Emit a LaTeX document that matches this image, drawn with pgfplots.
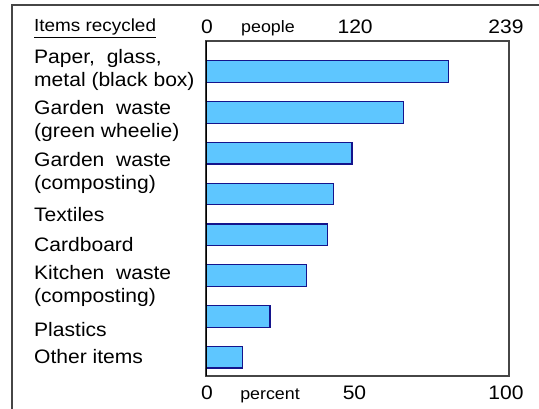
\documentclass[border=0pt]{standalone}
\usepackage{pgfplots}
\pgfplotsset{compat=1.18}
\usepackage{fontspec}
\setmainfont[FakeStretch=1.08]{Liberation Sans}
\definecolor{barfill}{RGB}{94,198,255}
\definecolor{baredge}{RGB}{20,20,140}
\definecolor{framec}{RGB}{70,70,70}
\newcommand{\lf}{\fontsize{19.5}{22.5}\selectfont}
\newcommand{\smf}{\fontsize{16.5}{19}\selectfont}
\begin{document}
\begin{tikzpicture}[x=1pt,y=1pt]
\path[use as bounding box] (0,0) rectangle (539,409);
\draw[framec, line width=1.2pt] (12,-2) -- (12,404) -- (541,404);
\begin{axis}[
  at={(206pt,33pt)}, anchor=south west,
  scale only axis, width=303pt, height=335pt,
  xmin=0, xmax=100, ymin=0.25, ymax=8.46, y dir=reverse,
  xbar, bar width=21.7pt,
  xtick={0,50,100},
  xticklabels={\hspace{8pt}0,{50},{100}},
  ytick={0.96,2.21,3.485,4.51,5.25,6.255,7.31,7.995},
  yticklabels={{Paper,\ \ glass,\\metal (black box)},{Garden\ \ waste\\(green wheelie)},{Garden\ \ waste\\(composting)},{Textiles},{Cardboard},{Kitchen\ \ waste\\(composting)},{Plastics},{Other items}},
  major tick length=0pt,
  axis line style={framec, line width=1.2pt},
  tick label style={font=\lf},
  /pgf/number format/assume math mode=true,
  xticklabel style={anchor=center, inner sep=0pt, yshift=-17pt, xshift=-3pt},
  yticklabel style={anchor=west, align=left, inner sep=0pt, xshift=-172pt},
]
\addplot[fill=barfill, draw=baredge, line width=1.2pt] coordinates {
  (80.0,1) (65.1,2) (48.2,3) (42.1,4) (40.0,5) (33.1,6) (21.1,7) (12.1,8)
};
\draw[black, line width=1.5pt] (rel axis cs:0,0) -- (rel axis cs:0,1);
\end{axis}
\begin{axis}[
  at={(206pt,33pt)}, anchor=south west,
  scale only axis, width=303pt, height=335pt,
  xmin=0, xmax=239, ymin=0, ymax=1,
  axis x line*=top, hide y axis,
  axis line style={draw=none},
  xtick={0,120,239},
  xticklabels={\hspace{8pt}0,{120},{239}},
  major tick length=0pt,
  tick label style={font=\lf},
  /pgf/number format/assume math mode=true,
  xticklabel style={anchor=center, inner sep=0pt, yshift=14pt, xshift=-3pt},
]
\end{axis}
\node[anchor=base, inner sep=0pt, font=\smf] at (268,376) {people};
\node[anchor=base, inner sep=0pt, font=\smf] at (270,9) {percent};
\node[anchor=base west, inner sep=0pt, font=\fontsize{17.5}{20}\selectfont] at (34,377) {\underline{Items recycled}};
\end{tikzpicture}
\end{document}
